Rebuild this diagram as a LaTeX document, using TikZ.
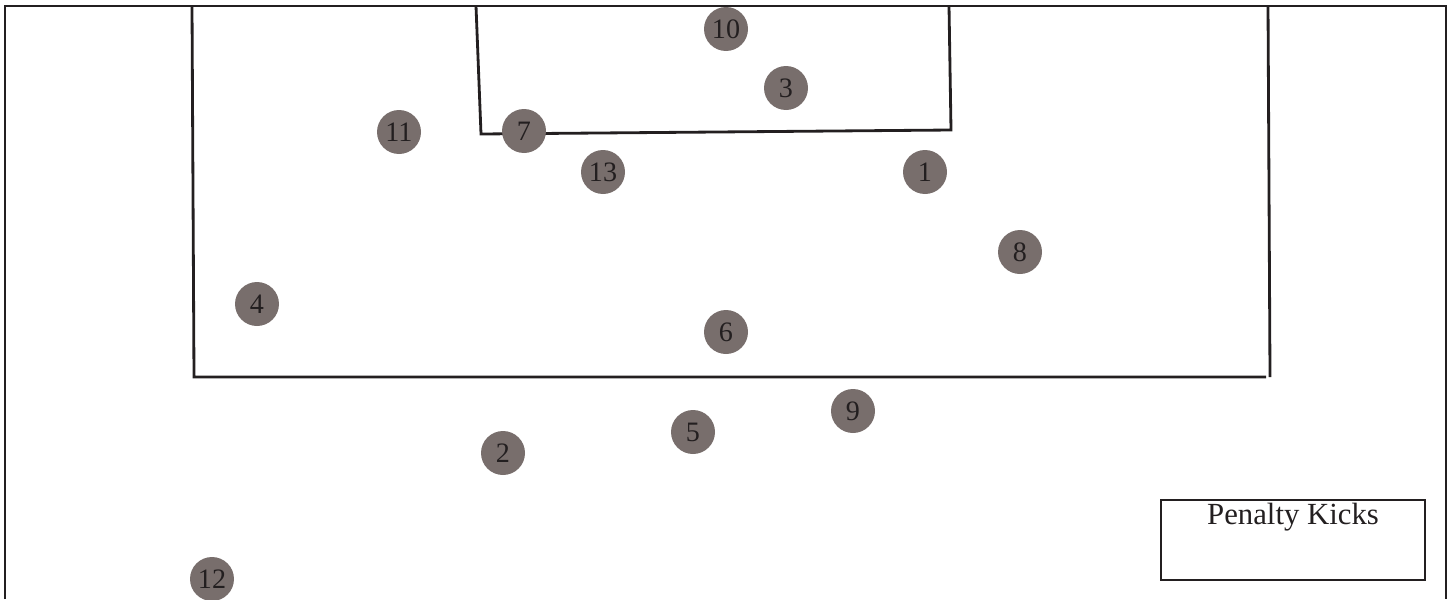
\documentclass[tikz,border=0pt]{standalone}
\usepackage{fontspec}
\setmainfont{Liberation Serif}
\usetikzlibrary{positioning}
\definecolor{ink}{HTML}{231F20}
\definecolor{shirt}{HTML}{786E6C}
\tikzset{
  player/.style={circle,fill=shirt,text=ink,minimum size=0.88cm,inner sep=0pt,font=\fontsize{16}{16}\selectfont},
  pitch/.style={draw=ink,line width=1.6pt}
}

\begin{document}
\begin{tikzpicture}[x=0.02cm,y=-0.02cm]
  \useasboundingbox (0,0) rectangle (1452,599);
  % field lines
  \draw[pitch] (5,599)--(5,6)--(1446,6)--(1446,599);
  \draw[pitch] (192,6)--(194,377)--(1266,377);
  \draw[pitch] (1268,6)--(1270,377);
  \draw[pitch] (476,6)--(481,134)--(951,130)--(949,6);
  % players
  \node[player] (p10) at (726,29){10};
  \node[player] (p3) at (786,88){3};
  \node[player] (p11) at (399,132){11};
  \node[player] (p7) at (524,131){7};
  \node[player] (p13) at (603,172){13};
  \node[player] (p1) at (925,172){1};
  \node[player] (p8) at (1020,252){8};
  \node[player] (p4) at (257,304){4};
  \node[player] (p6) at (726,332){6};
  \node[player] (p9) at (853,411){9};
  \node[player] (p5) at (693,432){5};
  \node[player] (p2) at (503,453){2};
  \node[player] (p12) at (212,579){12};
  % legend
  \node[draw=ink,line width=1.6pt,minimum width=5.28cm,minimum height=1.6cm,inner sep=0pt] (pkbox) at (1293,540){};
  \node[inner sep=0pt,text=ink,font=\fontsize{17.5}{17.5}\selectfont,below=0.08cm of pkbox.north] (pklabel){Penalty Kicks};
\end{tikzpicture}
\end{document}
